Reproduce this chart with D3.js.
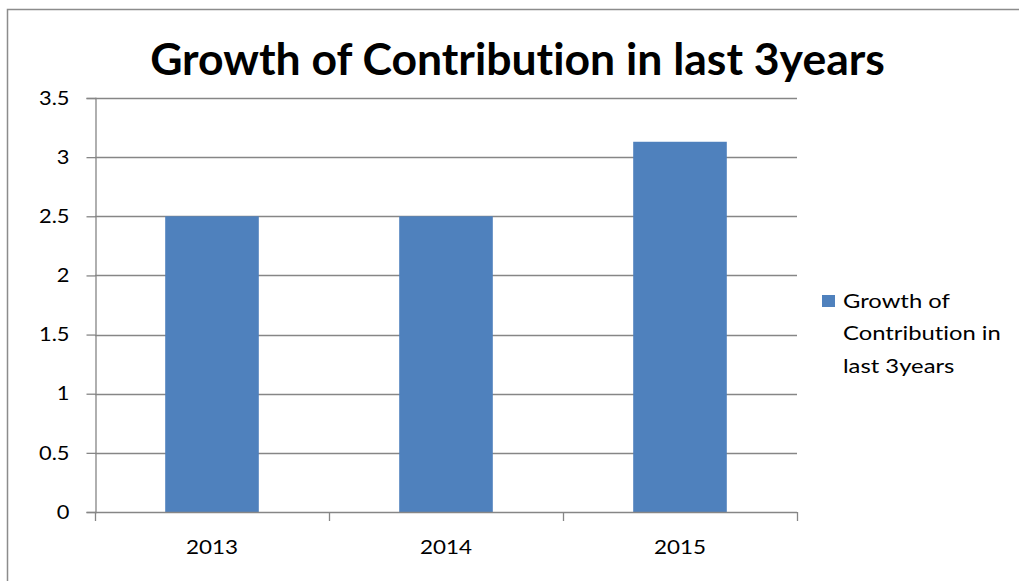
<!DOCTYPE html>
<html>
<head>
<meta charset="utf-8">
<script src="https://cdn.jsdelivr.net/npm/d3@7"></script>
<style>
  html, body { margin: 0; padding: 0; background: #fff; }
  svg { display: block; font-family: Lato, "Open Sans", sans-serif; }
  svg text { font-variant-ligatures: none; font-feature-settings: "liga" 0, "clig" 0; }
</style>
</head>
<body>
<svg id="chart" width="1019" height="581"></svg>
<script>
// Chart data
const years = ["2013", "2014", "2015"];
const growth = [2.5, 2.5, 3.13];
const yTickValues = [0, 0.5, 1, 1.5, 2, 2.5, 3, 3.5];
const chartTitle = "Growth of Contribution in last 3years";
const legendLines = ["Growth of", "Contribution in", "last 3years"];

const svg = d3.select("#chart");
const W = 1019, H = 581;
const plot = { left: 95, right: 797, top: 98, bottom: 512 };
const barColor = "#4f81bd";
const lineColor = "#868686";

// Widen text glyphs horizontally by a factor
function widen(sel, factor) {
  sel.each(function () {
    const w = this.getComputedTextLength();
    d3.select(this)
      .attr("textLength", w * factor)
      .attr("lengthAdjust", "spacingAndGlyphs");
  });
}

// Outer frame
svg.append("rect")
  .attr("x", 7.5).attr("y", 9.5)
  .attr("width", W).attr("height", H)
  .attr("fill", "#fff")
  .attr("stroke", "#8c8c8c").attr("stroke-width", 1.5);

// Scales
const x = d3.scaleBand()
  .domain(years)
  .range([plot.left, plot.right])
  .paddingInner(0.6)
  .paddingOuter(0.3);

const y = d3.scaleLinear()
  .domain([0, 3.5])
  .range([plot.bottom, plot.top]);

// Horizontal gridlines
svg.append("g")
  .selectAll("line")
  .data(yTickValues.filter(v => v > 0))
  .join("line")
  .attr("x1", plot.left).attr("x2", plot.right)
  .attr("y1", d => Math.round(y(d)) + 0.5).attr("y2", d => Math.round(y(d)) + 0.5)
  .attr("stroke", lineColor).attr("stroke-width", 1.3);

// Bars
svg.append("g")
  .selectAll("rect")
  .data(years.map((yr, i) => ({ yr, v: growth[i] })))
  .join("rect")
  .attr("x", d => x(d.yr))
  .attr("width", x.bandwidth())
  .attr("y", d => y(d.v))
  .attr("height", d => y(0) - y(d.v))
  .attr("fill", barColor);

// Y axis
const yAxis = svg.append("g")
  .attr("transform", `translate(${plot.left + 0.5},0)`)
  .call(d3.axisLeft(y).tickValues(yTickValues).tickFormat(d => String(d))
    .tickSize(9).tickPadding(17));
yAxis.select(".domain").attr("stroke", lineColor).attr("stroke-width", 1.3);
yAxis.selectAll(".tick line").attr("stroke", lineColor).attr("stroke-width", 1.3);
yAxis.selectAll(".tick text")
  .attr("fill", "#000").attr("font-size", 19.5).attr("font-family", "Lato, sans-serif")
  .call(widen, 1.12);

// X axis: baseline, boundary ticks, centred category labels
const xAxis = svg.append("g");
xAxis.append("line")
  .attr("x1", plot.left).attr("x2", plot.right)
  .attr("y1", plot.bottom + 0.5).attr("y2", plot.bottom + 0.5)
  .attr("stroke", lineColor).attr("stroke-width", 1.3);
const boundaries = years.map(yr => x(yr) - x.step() * x.paddingInner() / 2)
  .concat([plot.right]);
boundaries[0] = plot.left;
xAxis.selectAll("line.tick")
  .data(boundaries)
  .join("line")
  .attr("class", "tick")
  .attr("x1", d => Math.round(d) + 0.5).attr("x2", d => Math.round(d) + 0.5)
  .attr("y1", plot.bottom).attr("y2", plot.bottom + 9)
  .attr("stroke", lineColor).attr("stroke-width", 1.3);
xAxis.selectAll("text")
  .data(years)
  .join("text")
  .attr("x", d => x(d) + x.bandwidth() / 2)
  .attr("y", 554)
  .attr("text-anchor", "middle")
  .attr("font-size", 19.5)
  .text(d => d)
  .call(widen, 1.15);

// Title, sized to span its slot
const title = svg.append("text")
  .attr("x", 517.5).attr("y", 75)
  .attr("text-anchor", "middle")
  .attr("font-weight", 700)
  .attr("font-size", 100)
  .text(chartTitle);
const tw = title.node().getComputedTextLength();
title.attr("font-size", 100 * 735 / tw);

// Legend
const legend = svg.append("g");
legend.append("rect")
  .attr("x", 822).attr("y", 295)
  .attr("width", 13).attr("height", 12)
  .attr("fill", barColor);
legend.selectAll("text")
  .data(legendLines)
  .join("text")
  .attr("x", 843)
  .attr("y", (d, i) => 307.5 + i * 32.5)
  .attr("font-size", 19.5)
  .text(d => d)
  .call(widen, 1.22);
</script>
</body>
</html>
